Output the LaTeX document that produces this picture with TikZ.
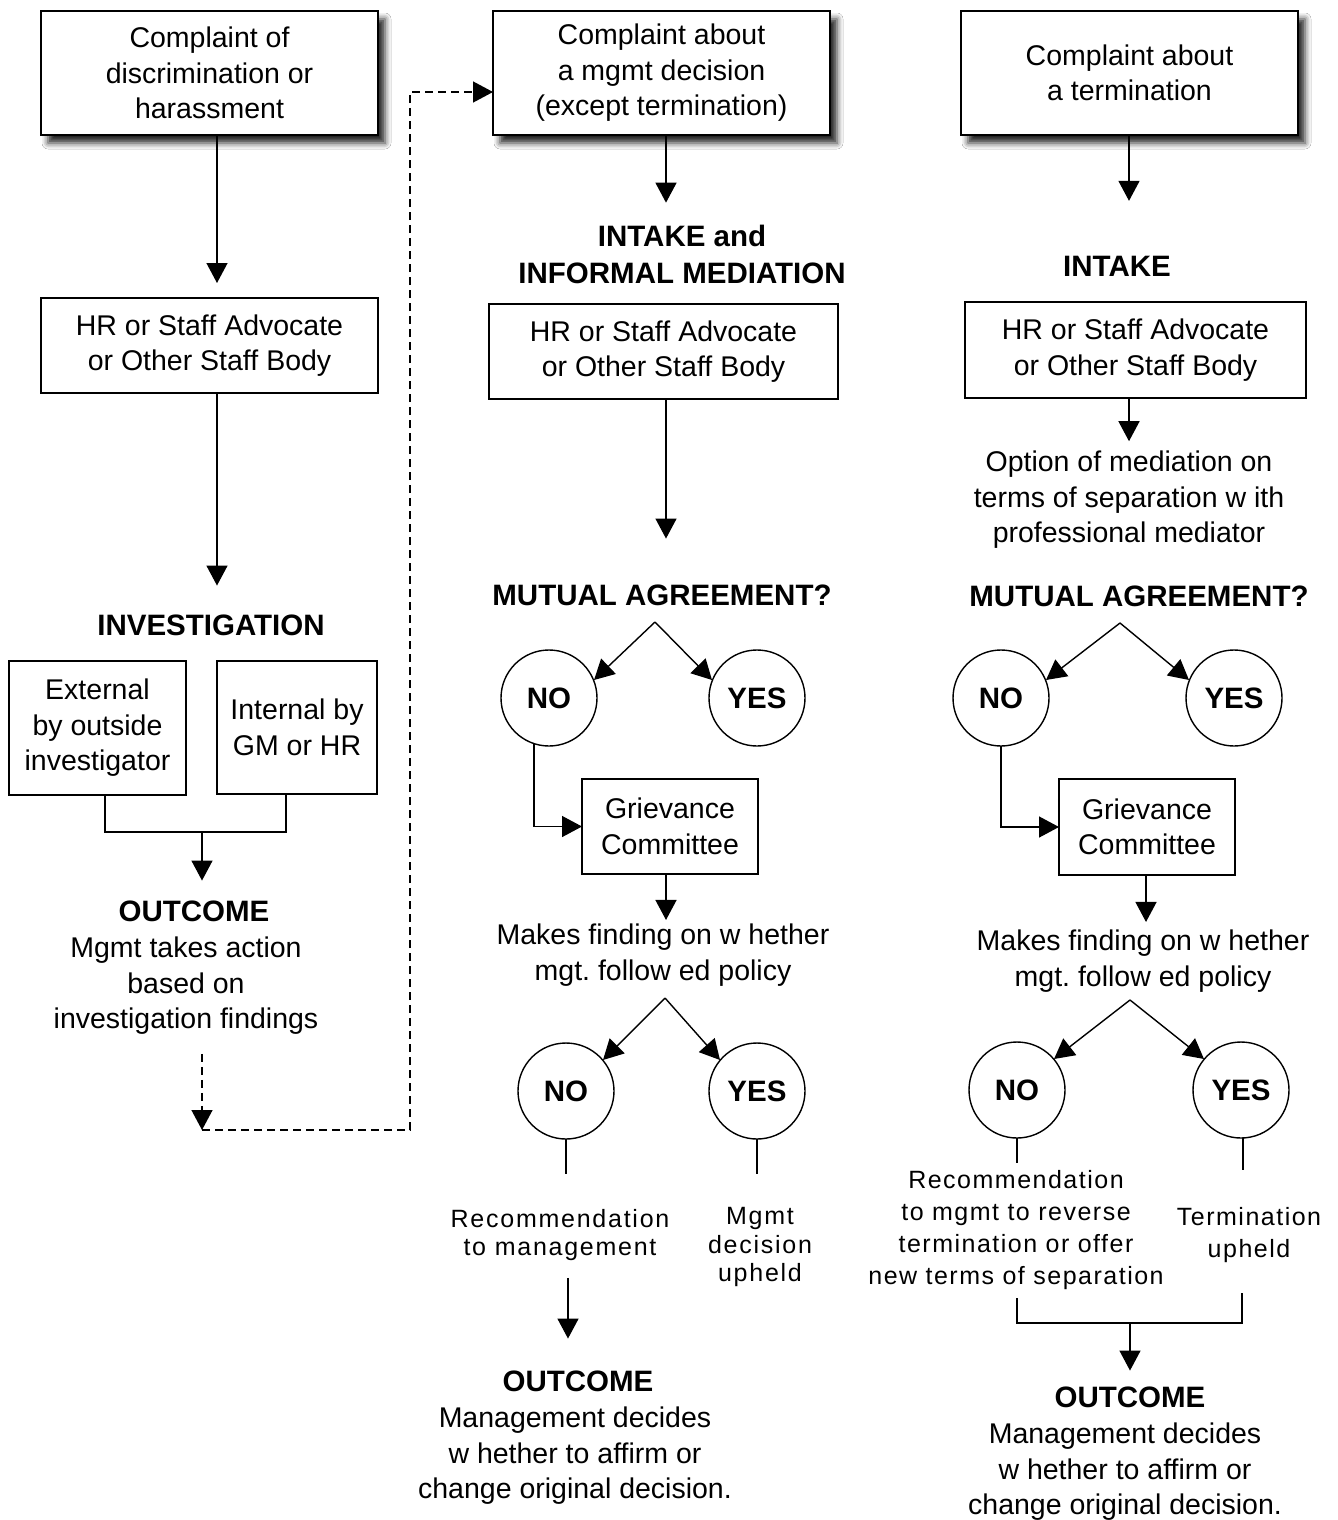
\documentclass[tikz,border=0pt]{standalone}
\usepackage{fontspec}
\setmainfont{Liberation Sans}
\newfontfamily\spacedfont[LetterSpace=7]{Liberation Sans}
\newfontfamily\spacedfontb[LetterSpace=6]{Liberation Sans}
\usetikzlibrary{arrows.meta,shadows.blur,calc}
\frenchspacing
\begin{document}
\begin{tikzpicture}[x=1pt,y=-1pt,
  every node/.style={inner sep=0pt, outer sep=0pt},
  reg/.style={align=center, font=\fontsize{28.5}{35.5}\selectfont},
  hd/.style={align=center, font=\fontsize{29.5}{37}\selectfont\bfseries},
  sm/.style={align=center, font=\spacedfont\fontsize{25}{28.5}\selectfont},
  smb/.style={align=center, font=\spacedfontb\fontsize{25}{32.3}\selectfont},
  box/.style={reg, draw, line width=1.6pt, fill=white},
  sbox/.style={box, blur shadow={shadow xshift=7pt, shadow yshift=-8pt, shadow blur radius=6pt, shadow opacity=85}},
  circ/.style={circle, draw, line width=1.4pt, minimum size=96pt, font=\fontsize{29.5}{35}\selectfont\bfseries},
  ln/.style={line width=1.4pt},
  arr/.style={line width=1.4pt, -{Triangle[length=20pt,width=21pt]}},
  darr/.style={arr, dash pattern=on 8pt off 5pt},
]
\useasboundingbox (0,0) rectangle (1338,1520);
\fill[white] (0,0) rectangle (1338,1520);

% ---------- left column ----------
\node[sbox, minimum width=337pt, minimum height=124pt] (A) at (209.5,73) {Complaint of\\discrimination or\\harassment};
\node[box, minimum width=337pt, minimum height=95pt] (A2) at (209.5,345.5) {HR or Staff Advocate\\or Other Staff Body};
\node[hd] (inv) at (211,625) {INVESTIGATION};
\node[box, minimum width=177pt, minimum height=134pt] (ext) at (97.5,728) {External\\by outside\\investigator};
\node[box, minimum width=160pt, minimum height=133pt] (int) at (297,727.5) {Internal by\\GM or HR};
\node[hd] (out1) at (194,911) {OUTCOME};
\node[reg] (out1t) at (186,986) {Mgmt takes action\\based on\\investigation findings};

\draw[arr, shorten >=15pt] ([xshift=7.5pt]A.south) -- ([xshift=7.5pt]A2.north);
\draw[arr, shorten >=29pt] ([xshift=7.5pt]A2.south) -- ([xshift=7.5pt]A2.south |- inv.north);
\coordinate (bl) at (105,832);
\coordinate (br) at (286,832);
\coordinate (bj) at (202,832);
\draw[ln] (ext.south -| bl) -- (bl) -- (br) -- (int.south -| br);
\draw[arr, shorten >=20pt] (bj) -- (bj |- out1.north);

% ---------- middle column ----------
\node[sbox, minimum width=337pt, minimum height=124pt] (B) at (661.5,73) {Complaint about\\a mgmt decision\\(except termination)};
\node[hd] (h2) at (682,254) {INTAKE and\\INFORMAL MEDIATION};
\node[box, minimum width=349pt, minimum height=95pt] (B2) at (663.5,351.5) {HR or Staff Advocate\\or Other Staff Body};
\node[hd] (ma1) at (662,595) {MUTUAL AGREEMENT?};
\node[circ] (no1) at (549,698) {NO};
\node[circ] (yes1) at (757,698) {YES};
\node[box, minimum width=176pt, minimum height=95pt] (g1) at (670,826.5) {Grievance\\Committee};
\node[reg] (mf1) at (663,955) {Makes finding on w hether\\mgt. follow ed policy};
\node[circ] (no2) at (566,1091) {NO};
\node[circ] (yes2) at (757,1091) {YES};
\node[sm] (rec1) at (560,1235) {Recommendation\\to management};
\node[sm] (mu1) at (760,1247) {Mgmt\\decision\\upheld};
\node[hd] (out2) at (578,1381) {OUTCOME};
\node[reg] (out2t) at (575,1456) {Management decides\\w hether to affirm or\\change original decision.};

\draw[arr, shorten >=22pt] ([xshift=4.5pt]B.south) -- ([xshift=4.5pt]B.south |- h2.north);
\draw[arr, shorten >=46pt] ([xshift=2.5pt]B2.south) -- ([xshift=2.5pt]B2.south |- ma1.north);
\coordinate (ap1) at (655,622);
\draw[arr] (ap1) -- ($(no1.center)+(45,-18)$);
\draw[arr] (ap1) -- ($(yes1.center)+(-45,-18)$);
\draw[arr] (no1.252) |- (g1.west);
\draw[arr, shorten >=4pt] ([xshift=-4pt]g1.south) -- ([xshift=-4pt]g1.south |- mf1.north);
\coordinate (ap2) at (665,998);
\draw[arr] (ap2) -- ($(no2.center)+(37,-31)$);
\draw[arr] (ap2) -- ($(yes2.center)+(-37,-31)$);
\draw[ln] (no2.south) -- ++(0,35);
\draw[ln] (yes2.south) -- ++(0,35);
\draw[arr, shorten <=17pt, shorten >=32pt] ([xshift=8pt]rec1.south) -- ([xshift=8pt]rec1.south |- out2.north);

% dashed return connector
\coordinate (d1) at (202,1130);
\coordinate (d2) at (410,92);
\draw[darr, shorten <=19pt] (out1t.south -| d1) -- (d1);
\draw[darr] (d1) -| (d2) -- (B.west |- d2);

% ---------- right column ----------
\node[sbox, minimum width=337pt, minimum height=124pt] (C) at (1129.5,73) {Complaint about\\a termination};
\node[hd] (h3) at (1117,266) {INTAKE};
\node[box, minimum width=341pt, minimum height=96pt] (C2) at (1135.5,350) {HR or Staff Advocate\\or Other Staff Body};
\node[reg] (opt) at (1129,500) {Option of mediation on\\terms of separation w ith\\professional mediator};
\node[hd] (ma2) at (1139,596) {MUTUAL AGREEMENT?};
\node[circ] (no3) at (1001,698) {NO};
\node[circ] (yes3) at (1234,698) {YES};
\node[box, minimum width=176pt, minimum height=96pt] (g2) at (1147,827) {Grievance\\Committee};
\node[reg] (mf2) at (1143,961) {Makes finding on w hether\\mgt. follow ed policy};
\node[circ] (no4) at (1017,1090) {NO};
\node[circ] (yes4) at (1241,1090) {YES};
\node[smb] (rec2) at (1016,1230) {Recommendation\\to mgmt to reverse\\termination or offer\\new terms of separation};
\node[smb] (term) at (1249,1235) {Termination\\upheld};
\node[hd] (out3) at (1130,1397) {OUTCOME};
\node[reg] (out3t) at (1125,1472) {Management decides\\w hether to affirm or\\change original decision.};

\draw[arr, shorten >=55pt] ([xshift=-0.5pt]C.south) -- ([xshift=-0.5pt]C.south |- h3.north);
\draw[arr, shorten >=10pt] ([xshift=-6.5pt]C2.south) -- ([xshift=-6.5pt]C2.south |- opt.north);
\coordinate (ap3) at (1120,623);
\draw[arr] (ap3) -- ($(no3.center)+(45,-18)$);
\draw[arr] (ap3) -- ($(yes3.center)+(-45,-18)$);
\draw[arr] (no3.south) |- (g2.west);
\draw[arr, shorten >=8pt] ([xshift=-1pt]g2.south) -- ([xshift=-1pt]g2.south |- mf2.north);
\coordinate (ap4) at (1130,1000);
\draw[arr] (ap4) -- ($(no4.center)+(37,-31)$);
\draw[arr] (ap4) -- ($(yes4.center)+(-37,-31)$);
\draw[ln] (no4.south) -- ++(0,25);
\draw[ln] ([xshift=2pt]yes4.south) -- ++(0,32);
\coordinate (rb1) at (1017,1323);
\coordinate (rb2) at (1242,1323);
\coordinate (rbj) at (1130,1323);
\draw[ln, shorten <=8pt, shorten >=30pt] (rec2.south -| rb1) -- (rb1) -- (rb2) -- (term.south -| rb2);
\draw[arr, shorten >=16pt] (rbj) -- (rbj |- out3.north);
\end{tikzpicture}
\end{document}
